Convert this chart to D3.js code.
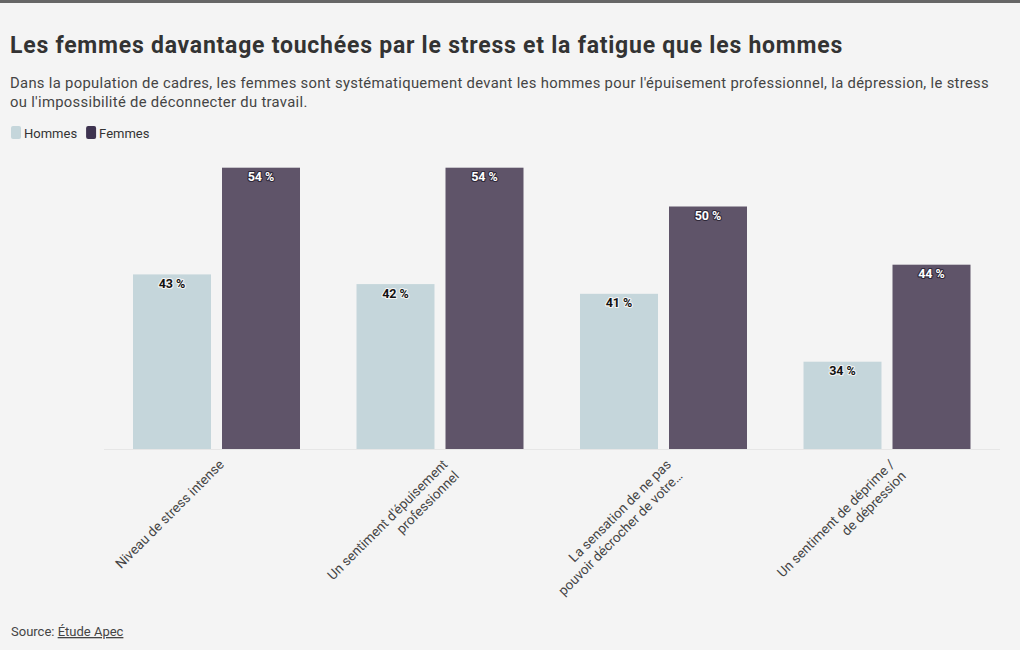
<!DOCTYPE html>
<html><head><meta charset="utf-8">
<script src="https://cdn.jsdelivr.net/npm/d3@7"></script>
<style>
body{margin:0;background:#f4f4f4;font-family:Roboto,"Noto Sans",sans-serif;}
</style></head><body>
<svg id="c" width="1020" height="650"></svg>
<script>
const categories = [
  ["Niveau de stress intense"],
  ["Un sentiment d'épuisement", "professionnel"],
  ["La sensation de ne pas", "pouvoir décrocher de votre…"],
  ["Un sentiment de déprime /", "de dépression"]
];
const seriesNames = ["Hommes", "Femmes"];
const hommes = [43, 42, 41, 34];
const femmes = [54, 54, 50, 44];
const barColors = ["#c5d6db", "#5f5469"];
const legendColors = ["#c5d6db", "#3e3350"];

const svg = d3.select("#c");
svg.append("rect").attr("width",1020).attr("height",650).attr("fill","#f4f4f4");
svg.append("rect").attr("width",1020).attr("height",3).attr("fill","#666");

const title = svg.append("text").attr("x",10).attr("y",53).attr("fill","#333")
  .style("font-size","23px").style("font-weight","700")
  .text("Les femmes davantage touchées par le stress et la fatigue que les hommes");
{
  const n = title.text().length, w = title.node().getComputedTextLength();
  title.style("letter-spacing", ((833 - w)/n) + "px");
}
const sub = svg.append("text").attr("fill","#444").style("font-size","14.8px");
const s1 = sub.append("tspan").attr("x",10).attr("y",88)
  .text("Dans la population de cadres, les femmes sont systématiquement devant les hommes pour l'épuisement professionnel, la dépression, le stress");
const s2 = sub.append("tspan").attr("x",10).attr("y",107).text("ou l'impossibilité de déconnecter du travail.");
{
  const n = s1.text().length, w = s1.node().getComputedTextLength();
  sub.style("letter-spacing", ((979 - w)/n) + "px");
}

// legend
const lg = svg.append("g");
let lx = 11;
seriesNames.forEach((n,i)=>{
  lg.append("rect").attr("x",lx).attr("y",126).attr("width",10).attr("height",13).attr("rx",2).attr("fill",legendColors[i]);
  const t = lg.append("text").attr("x",lx+13).attr("y",137.5).attr("fill","#333").style("font-size","13px").text(n);
  lx += 13 + t.node().getComputedTextLength() + 9;
});

const pIn = 56.5/223.5;
const x0 = d3.scaleBand().domain(d3.range(categories.length)).range([104.75,998.75]).paddingInner(pIn).paddingOuter(pIn/2);
const x1 = d3.scaleBand().domain([0,1]).range([0,x0.bandwidth()]).paddingInner(11/89);
const y = d3.scaleLinear().domain([25,55]).range([449,158]);

svg.append("line").attr("x1",104).attr("x2",1000).attr("y1",449.5).attr("y2",449.5).attr("stroke","#e6e6e6");

const data = categories.map((c,i)=>({i, vals:[hommes[i], femmes[i]]}));
const g = svg.append("g").selectAll("g").data(data).join("g")
  .attr("transform",d=>`translate(${x0(d.i)},0)`);
g.selectAll("rect").data(d=>d.vals.map((v,k)=>({v,k}))).join("rect")
  .attr("x",d=>x1(d.k)).attr("width",x1.bandwidth())
  .attr("y",d=>y(d.v)).attr("height",d=>y(y.domain()[0])-y(d.v))
  .attr("fill",d=>barColors[d.k]);
g.selectAll("text").data(d=>d.vals.map((v,k)=>({v,k}))).join("text")
  .attr("x",d=>x1(d.k)+x1.bandwidth()/2).attr("y",d=>y(d.v)+13.5)
  .attr("text-anchor","middle").style("font-size","12.5px").style("font-weight","700")
  .attr("fill",d=>d.k? "#fff":"#111")
  .attr("stroke",d=>d.k? "#2e2838":"#f4f4f4").attr("stroke-width",2.2).attr("paint-order","stroke").attr("stroke-linejoin","round")
  .text(d=>d.v+" %");

// x axis labels
const xl = svg.append("g").selectAll("text").data(categories).join("text")
  .attr("transform",(d,i)=>`translate(${x0(i)+x0.bandwidth()/2+5},${462}) rotate(-45)`)
  .attr("text-anchor","end").attr("fill","#444").style("font-size","13.5px");
xl.each(function(d){
  const t = d3.select(this);
  d.forEach((line,j)=>{
    t.append("tspan").attr("x",0).attr("dy", j===0 ? "0.35em" : "1.2em").text(line);
  });
});

const src = svg.append("text").attr("x",11).attr("y",636).attr("fill","#444").style("font-size","13px");
src.append("tspan").text("Source: ");
src.append("tspan").style("text-decoration","underline").text("Étude Apec");
</script>
</body></html>
